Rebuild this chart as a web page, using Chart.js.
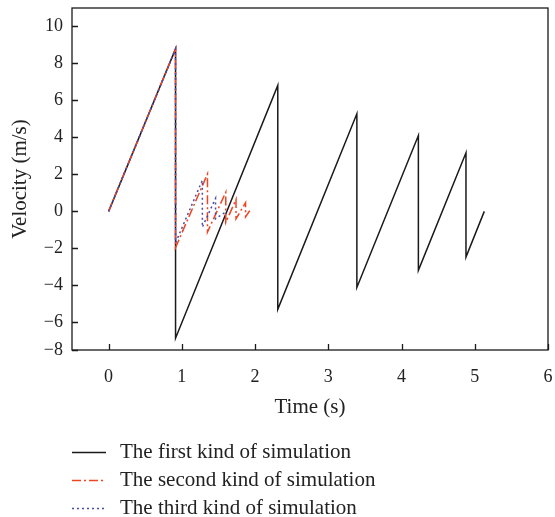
<!DOCTYPE html>
<html>
<head>
<meta charset="utf-8">
<script src="https://cdn.jsdelivr.net/npm/chart.js@4.4.1/dist/chart.umd.min.js"></script>
<style>
  html, body { margin: 0; padding: 0; background: #ffffff; }
  #wrap { width: 555px; height: 517px; }
</style>
</head>
<body>
<div id="wrap"><canvas id="c" width="555" height="517"></canvas></div>
<script>
// ---- data ----
const seriesLabels = [
  "The first kind of simulation",
  "The second kind of simulation",
  "The third kind of simulation"
];
// first kind (black solid)
const firstT = [0, 0.914, 0.914, 2.31, 2.31, 3.39, 3.39, 4.23, 4.23, 4.88, 4.88, 5.13];
const firstV = [0, 8.79, -6.86, 6.81, -5.30, 5.28, -4.12, 4.10, -3.19, 3.17, -2.47, 0];
// second kind (red dash-dot)
const secondT = [0, 0.914, 0.914, 1.35, 1.35, 1.60, 1.60, 1.74, 1.74, 1.87, 1.87, 1.93];
const secondV = [0, 8.79, -1.96, 2.02, -1.12, 1.04, -0.60, 0.65, -0.40, 0.47, -0.30, 0.05];
// third kind (blue dotted)
const thirdT = [0, 0.914, 0.914, 1.28, 1.28, 1.46, 1.46, 1.62];
const thirdV = [0, 8.79, -1.70, 1.68, -0.85, 0.70, -0.40, 0.02];

const xTicks = [0, 1, 2, 3, 4, 5, 6];
const yTicks = [-8, -6, -4, -2, 0, 2, 4, 6, 8, 10];

const xMin = -0.5, xMax = 6;
const yMin = -7.5, yMax = 11;

const colors = ["#1a1a1a", "#ee4422", "#4a4aa8"];
const dashes = [[], [9, 3, 2, 3], [2, 3]];
const drawOrder = [3, 2, 1]; // black underneath, dotted on top

const toPts = (t, v) => t.map((x, i) => ({ x: x, y: v[i] }));
const fmt = v => (v < 0 ? "\u2212" + Math.abs(v) : String(v));

const FONT = "'Liberation Serif', 'DejaVu Serif', serif";

const frame = {
  id: "frame",
  afterDatasetsDraw(chart) {
    const { ctx, chartArea: a, scales } = chart;
    ctx.save();
    ctx.strokeStyle = "#1a1a1a";
    ctx.lineWidth = 1.3;
    ctx.setLineDash([]);
    ctx.strokeRect(a.left, a.top, a.right - a.left, a.bottom - a.top);
    ctx.beginPath();
    scales.x.ticks.forEach(t => {
      const px = Math.round(scales.x.getPixelForValue(t.value)) + 0.5;
      ctx.moveTo(px, a.bottom);
      ctx.lineTo(px, a.bottom - 6);
    });
    scales.y.ticks.forEach(t => {
      const py = Math.round(scales.y.getPixelForValue(t.value)) + 0.5;
      ctx.moveTo(a.left, py);
      ctx.lineTo(a.left + 6, py);
    });
    ctx.stroke();
    ctx.restore();
  },
  afterDraw(chart) {
    const { ctx } = chart;
    ctx.save();
    ctx.font = "21px " + FONT;
    ctx.textBaseline = "alphabetic";
    ctx.fillStyle = "#222";
    chart.data.datasets.forEach((ds, i) => {
      const y = 452 + i * 28;
      ctx.strokeStyle = ds.borderColor;
      ctx.lineWidth = 1.5;
      ctx.setLineDash(ds.borderDash || []);
      ctx.beginPath();
      ctx.moveTo(72, y + 0.5);
      ctx.lineTo(106, y + 0.5);
      ctx.stroke();
      ctx.setLineDash([]);
      ctx.fillText(ds.label, 120, y + 6);
    });
    ctx.restore();
  }
};

const allT = [firstT, secondT, thirdT];
const allV = [firstV, secondV, thirdV];

new Chart(document.getElementById("c"), {
  type: "scatter",
  data: {
    datasets: seriesLabels.map((lab, i) => ({
      label: lab,
      data: toPts(allT[i], allV[i]),
      showLine: true,
      order: drawOrder[i],
      borderColor: colors[i],
      backgroundColor: colors[i],
      borderWidth: 1.5,
      borderDash: dashes[i],
      pointRadius: 0,
      tension: 0
    }))
  },
  options: {
    responsive: false,
    animation: false,
    layout: { padding: { top: 8, right: 7, left: 0, bottom: 97 } },
    plugins: {
      legend: { display: false },
      tooltip: { enabled: false }
    },
    scales: {
      x: {
        type: "linear",
        min: xMin, max: xMax,
        afterBuildTicks(s) { s.ticks = xTicks.map(v => ({ value: v })); },
        afterFit(s) { s.height = 70; s.paddingLeft = 0; s.paddingRight = 0; },
        grid: { display: false, drawTicks: false },
        border: { display: false },
        ticks: { color: "#222", font: { family: FONT, size: 18 }, padding: 16, maxRotation: 0,
                 callback: v => fmt(v) },
        title: { display: true, text: "Time (s)", color: "#222",
                 font: { family: FONT, size: 21 }, padding: { top: 4, bottom: 0 } }
      },
      y: {
        type: "linear",
        min: yMin, max: yMax,
        afterBuildTicks(s) { s.ticks = yTicks.map(v => ({ value: Math.max(v, yMin) })); },
        afterFit(s) { s.width = 72; s.paddingTop = 0; s.paddingBottom = 0; },
        grid: { display: false, drawTicks: false },
        border: { display: false },
        ticks: { color: "#222", font: { family: FONT, size: 18 }, padding: 9,
                 callback: (v, i) => fmt(yTicks[i]) },
        title: { display: true, text: "Velocity (m/s)", color: "#222",
                 font: { family: FONT, size: 21 }, padding: { top: 8, bottom: 0 } }
      }
    }
  },
  plugins: [frame]
});
</script>
</body>
</html>
